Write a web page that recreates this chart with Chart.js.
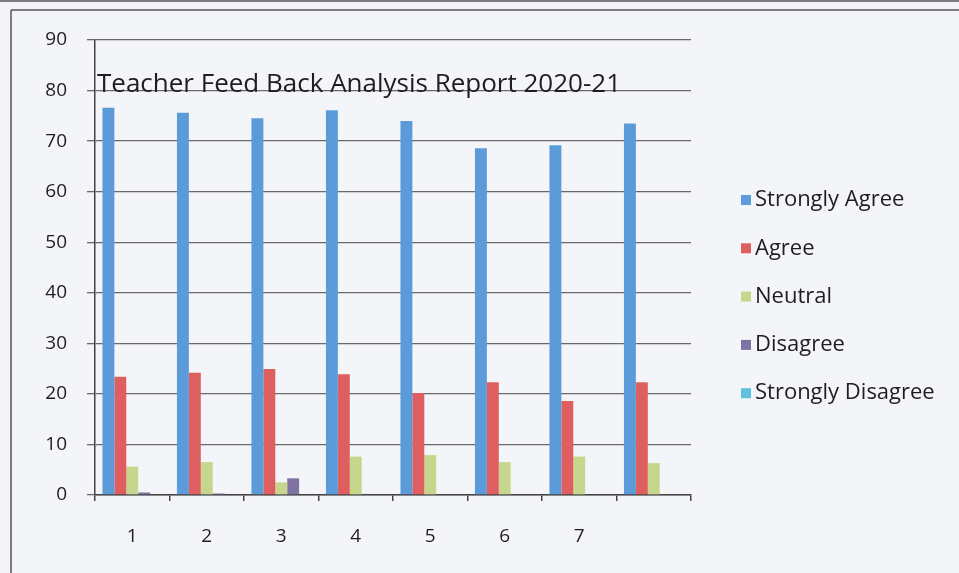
<!DOCTYPE html>
<html>
<head>
<meta charset="utf-8">
<script src="https://cdn.jsdelivr.net/npm/chart.js@4"></script>
<style>
  html, body { margin: 0; padding: 0; background: #f4f5f8; }
  #wrap { width: 959px; height: 573px; position: relative; }
</style>
</head>
<body>
<div id="wrap"><canvas id="fbChart"></canvas></div>
<script>
const labels = ["1", "2", "3", "4", "5", "6", "7", ""];
const stronglyAgree = [76.6, 75.6, 74.5, 76.1, 74.0, 68.6, 69.2, 73.5];
const agree = [23.4, 24.2, 24.9, 23.9, 20.2, 22.3, 18.6, 22.3];
const neutral = [5.6, 6.5, 2.5, 7.6, 7.9, 6.5, 7.6, 6.3];
const disagree = [0.5, 0.3, 3.3, 0, 0, 0, 0, 0];
const stronglyDisagree = [0, 0, 0, 0, 0, 0, 0, 0];
const yTicks = [0, 10, 20, 30, 40, 50, 60, 70, 80, 90];

const titleText = "Teacher Feed Back Analysis Report 2020-21";
const textColor = "#1e1e1e";

// frame of the scanned page + background
const framePlugin = {
    id: "frame",
    beforeDraw(chart) {
        const c = chart.ctx;
        c.save();
        c.fillStyle = "#f4f5f8";
        c.fillRect(0, 0, chart.width, chart.height);
        c.strokeStyle = "#555";
        c.lineWidth = 1.5;
        c.beginPath();
        c.moveTo(0, 1); c.lineTo(chart.width, 1);
        c.moveTo(11, 10); c.lineTo(chart.width, 10);
        c.moveTo(11, 10); c.lineTo(11, chart.height);
        c.stroke();
        c.restore();
    }
};

// title sits inside the plot, and the legend on the right
const textPlugin = {
    id: "texts",
    afterDraw(chart) {
        const c = chart.ctx;
        c.save();
        c.fillStyle = textColor;
        c.font = "26px 'Open Sans'";
        c.textBaseline = "alphabetic";
        c.fillText(titleText, 97, 92);

        c.font = "22px 'Open Sans'";
        c.textBaseline = "middle";
        chart.data.datasets.forEach((ds, i) => {
            const y = 200 + i * 48.3;
            c.fillStyle = ds.backgroundColor;
            c.fillRect(741, y - 5, 10, 10);
            c.fillStyle = textColor;
            c.fillText(ds.label, 755, y);
        });
        c.restore();
    }
};

new Chart(document.getElementById("fbChart").getContext("2d"), {
    type: "bar",
    data: {
        labels: labels,
        datasets: [
            { label: "Strongly Agree", data: stronglyAgree, backgroundColor: "#5b9bd9" },
            { label: "Agree", data: agree, backgroundColor: "#df5f60" },
            { label: "Neutral", data: neutral, backgroundColor: "#c6d68c" },
            { label: "Disagree", data: disagree, backgroundColor: "#7f73a3" },
            { label: "Strongly Disagree", data: stronglyDisagree, backgroundColor: "#5fc0e0" }
        ]
    },
    options: {
        responsive: true,
        maintainAspectRatio: false,
        animation: false,
        layout: { padding: { top: 40, right: 268, left: 0, bottom: 0 } },
        plugins: {
            legend: { display: false },
            tooltip: { enabled: false }
        },
        datasets: { bar: { categoryPercentage: 0.8, barPercentage: 1.0 } },
        scales: {
            x: {
                offset: true,
                afterFit: s => { s.height = 78; },
                grid: { offset: true, drawOnChartArea: false, tickLength: 6, color: "#444", lineWidth: 1.5 },
                border: { color: "#444", width: 1.5 },
                ticks: { color: textColor, font: { family: "'Open Sans'", size: 19 }, padding: 24 }
            },
            y: {
                min: 0,
                max: 90,
                afterFit: s => { s.width = 95; },
                afterBuildTicks: s => { s.ticks = yTicks.map(v => ({ value: v })); },
                grid: { color: "#6a6a6a", lineWidth: 1.3, tickLength: 8 },
                border: { color: "#444", width: 1.5 },
                ticks: { color: textColor, font: { family: "'Open Sans'", size: 19 }, padding: 20 }
            }
        }
    },
    plugins: [framePlugin, textPlugin]
});
</script>
</body>
</html>
